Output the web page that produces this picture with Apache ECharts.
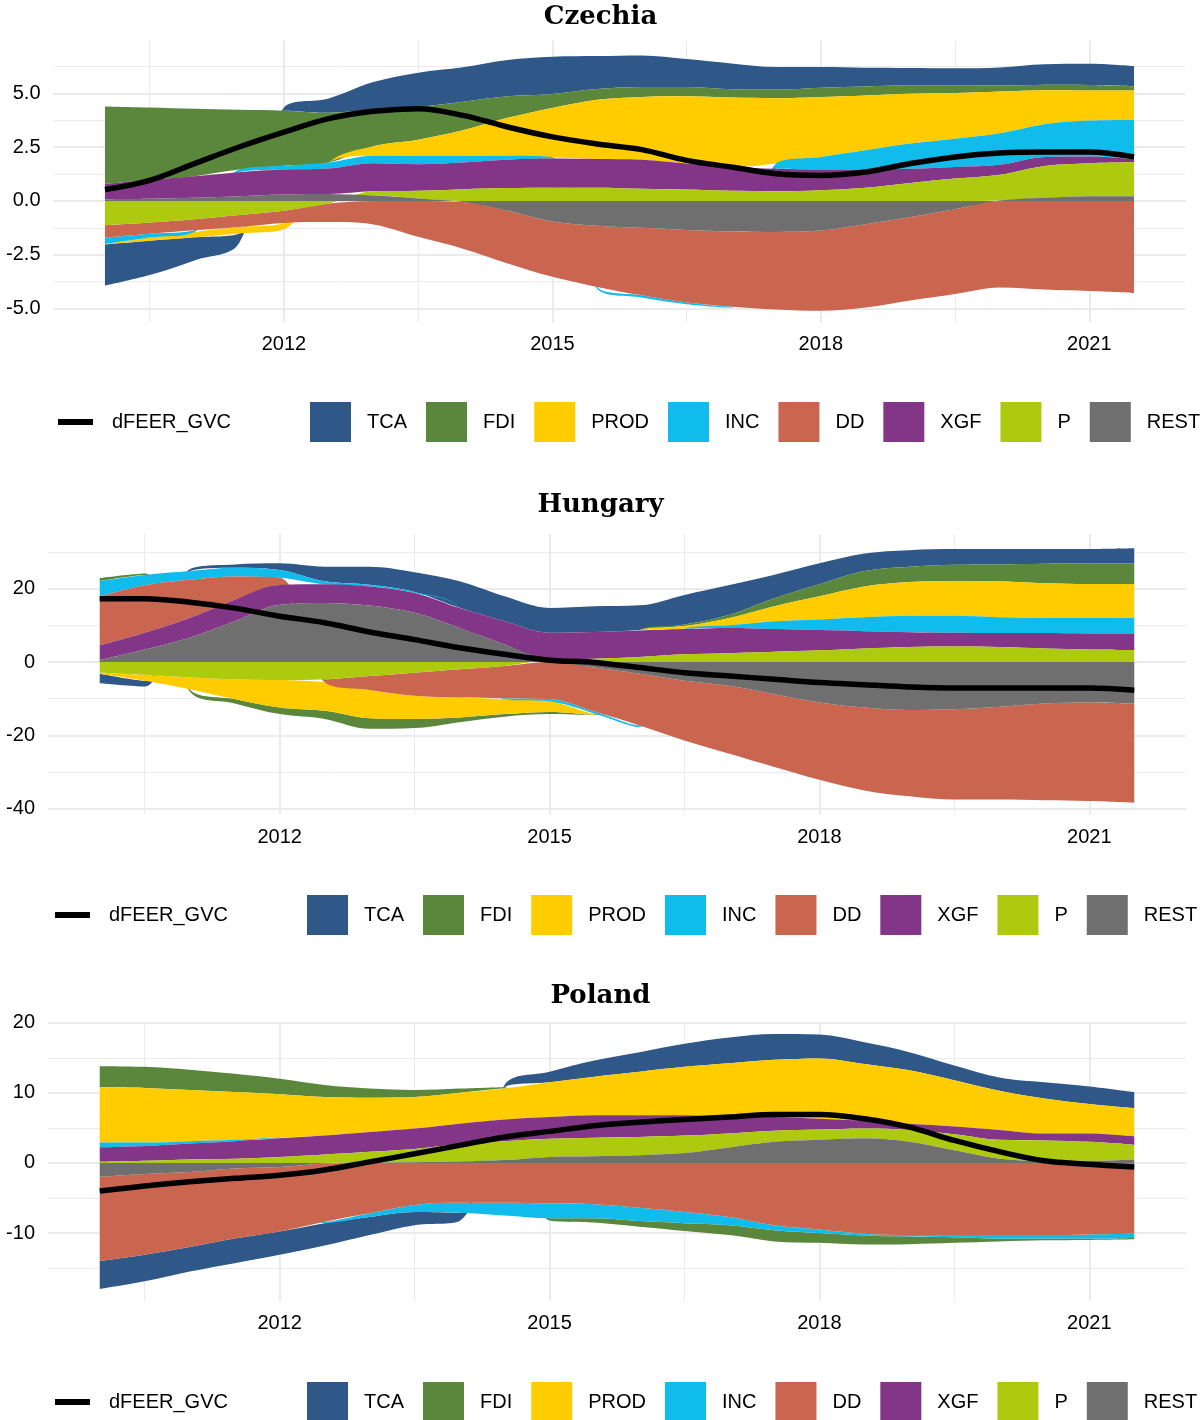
<!DOCTYPE html>
<html>
<head>
<meta charset="utf-8">
<script src="https://cdn.jsdelivr.net/npm/echarts@6/dist/echarts.min.js"></script>
<style>
  html, body { margin: 0; padding: 0; background: #fff; }
  #main { width: 1201px; height: 1420px; }
</style>
</head>
<body>
<div id="main"></div>
<script>
// half-year observation points
const years = [2010.0, 2010.5, 2011.0, 2011.5, 2012.0, 2012.5, 2013.0, 2013.5, 2014.0, 2014.5, 2015.0, 2015.5,
               2016.0, 2016.5, 2017.0, 2017.5, 2018.0, 2018.5, 2019.0, 2019.5, 2020.0, 2020.5, 2021.0, 2021.5];

// Czechia
const czREST = [0.08, 0.1, 0.15, 0.22, 0.3, 0.32, 0.25, 0.12, -0.05, -0.45, -0.95, -1.15, -1.25, -1.35, -1.42, -1.44, -1.38, -1.08, -0.75, -0.38, 0.02, 0.15, 0.22, 0.22];
const czP    = [-1.13, -1.0, -0.85, -0.65, -0.45, -0.12, 0.2, 0.35, 0.55, 0.6, 0.62, 0.62, 0.57, 0.53, 0.47, 0.45, 0.5, 0.62, 0.84, 1.04, 1.2, 1.48, 1.54, 1.58];
const czXGF  = [0.72, 0.88, 1.0, 1.12, 1.16, 1.19, 1.3, 1.24, 1.24, 1.32, 1.35, 1.33, 1.35, 1.21, 1.11, 1.05, 0.96, 0.86, 0.66, 0.54, 0.46, 0.42, 0.31, 0.15];
const czDD   = [-0.57, -0.52, -0.51, -0.56, -0.57, -0.86, -1.09, -1.67, -2.17, -2.46, -2.58, -2.85, -3.14, -3.37, -3.49, -3.61, -3.73, -3.88, -3.88, -3.95, -4.03, -4.12, -4.19, -4.28];
const czINC  = [-0.3, -0.18, -0.08, 0.12, 0.18, 0.28, 0.35, 0.38, 0.3, 0.18, 0.06, -0.08, -0.1, -0.08, -0.05, 0.24, 0.59, 0.88, 1.17, 1.32, 1.47, 1.52, 1.67, 1.82];
const czPROD = [-0.02, -0.15, -0.25, -0.3, -0.3, 0.0, 0.45, 0.76, 1.2, 1.77, 2.3, 2.76, 2.92, 3.13, 3.23, 3.04, 2.79, 2.55, 2.32, 2.12, 1.94, 1.58, 1.4, 1.37];
const czFDI  = [3.6, 3.37, 3.14, 2.78, 2.56, 2.31, 1.7, 1.52, 1.32, 1.0, 0.65, 0.5, 0.46, 0.43, 0.39, 0.4, 0.43, 0.42, 0.39, 0.36, 0.28, 0.26, 0.26, 0.2];
const czTCA  = [-1.92, -1.6, -1.08, -0.45, 0.15, 0.67, 1.28, 1.6, 1.61, 1.69, 1.73, 1.53, 1.47, 1.3, 1.2, 1.05, 0.96, 0.87, 0.81, 0.79, 0.84, 0.95, 0.98, 0.93];
const czLine = [0.53, 0.96, 1.74, 2.51, 3.2, 3.83, 4.17, 4.29, 3.98, 3.44, 2.98, 2.65, 2.39, 1.89, 1.58, 1.27, 1.19, 1.35, 1.74, 2.05, 2.23, 2.28, 2.28, 2.05];

// Hungary
const huREST = [0.5, 3.4, 6.6, 11.1, 15.6, 16.1, 15.4, 13.4, 9.3, 4.8, 0.4, -1.5, -3.2, -5.1, -6.5, -8.8, -11.0, -12.4, -13.1, -12.9, -12.2, -11.3, -11.0, -11.3];
const huP    = [-2.9, -3.5, -4.2, -4.7, -4.9, -4.7, -3.8, -2.9, -2.0, -1.1, 0.2, 0.9, 1.35, 2.1, 2.4, 2.8, 3.2, 3.7, 4.1, 4.2, 4.1, 3.7, 3.4, 3.25];
const huXGF  = [4.0, 4.55, 5.4, 5.9, 5.4, 5.1, 5.2, 5.4, 5.4, 6.3, 7.4, 7.3, 7.25, 6.9, 6.9, 6.2, 5.5, 4.7, 4.0, 3.75, 3.8, 4.2, 4.4, 4.55];
const huDD   = [13.4, 13.0, 10.4, 6.3, 2.0, -0.8, -3.8, -6.3, -7.7, -8.75, -10.1, -12.0, -14.1, -16.3, -18.5, -19.8, -21.1, -22.6, -23.5, -24.6, -25.3, -26.4, -26.9, -27.1];
const huINC  = [4.2, 2.8, 2.4, 2.4, 2.1, 0.8, 0.45, 0.3, 0.1, -0.3, -0.6, -0.5, -0.4, 0.05, 0.7, 2.1, 2.9, 3.8, 4.5, 4.65, 4.3, 4.1, 4.2, 4.2];
const huPROD = [-0.3, -1.6, -3.2, -5.4, -7.5, -7.8, -7.7, -6.3, -5.4, -4.05, -2.9, -0.3, 0.1, 0.75, 2.0, 4.1, 6.3, 8.4, 9.2, 9.5, 9.8, 9.5, 9.3, 9.3];
const huFDI  = [0.8, 0.4, -0.6, -1.2, -1.8, -2.2, -2.9, -2.5, -1.3, -0.7, -0.6, -0.2, 0.05, 0.4, 0.9, 2.2, 3.3, 4.2, 4.2, 4.4, 4.6, 5.3, 5.6, 5.6];
const huTCA  = [-2.6, -1.6, 0.5, 0.9, 1.8, 4.0, 4.95, 5.4, 7.2, 6.8, 6.75, 7.0, 6.7, 8.1, 8.1, 6.4, 5.7, 4.8, 4.5, 4.3, 4.2, 4.0, 3.9, 4.1];
const huLine = [17.25, 17.25, 16.3, 14.7, 12.5, 10.7, 8.2, 6.1, 3.9, 2.1, 0.5, -0.1, -1.5, -2.9, -3.8, -4.7, -5.6, -6.2, -6.8, -7.1, -7.1, -7.1, -7.1, -7.7];

// Poland
const plREST = [-2.0, -1.6, -1.3, -0.8, -0.6, -0.1, 0.05, 0.1, 0.2, 0.4, 0.85, 0.95, 1.1, 1.4, 2.2, 3.0, 3.3, 3.5, 3.0, 1.8, 0.6, 0.3, 0.3, 0.5];
const plP    = [0.15, 0.3, 0.5, 0.6, 0.85, 1.2, 1.55, 1.9, 2.5, 2.7, 2.6, 2.65, 2.6, 2.5, 2.0, 1.6, 1.45, 1.4, 1.7, 2.3, 2.7, 2.9, 2.7, 2.05];
const plXGF  = [2.05, 2.1, 2.25, 2.5, 2.65, 2.7, 2.8, 2.9, 2.9, 3.1, 3.1, 3.2, 3.1, 2.9, 2.4, 1.95, 1.55, 1.1, 0.9, 1.1, 1.4, 1.0, 1.2, 1.25];
const plDD   = [-12.0, -11.5, -10.7, -10.0, -9.2, -8.3, -7.2, -6.0, -5.7, -5.7, -5.8, -5.9, -6.4, -7.0, -7.7, -8.9, -9.5, -10.1, -10.3, -10.3, -10.3, -10.3, -10.2, -10.1];
const plINC  = [0.7, 0.5, 0.35, 0.2, 0.1, -0.2, -0.5, -1.0, -1.4, -1.8, -2.1, -2.0, -1.9, -1.6, -1.2, -0.7, -0.5, -0.25, -0.2, -0.3, -0.5, -0.5, -0.6, -0.6];
const plPROD = [7.9, 7.8, 7.3, 6.8, 6.2, 5.5, 4.9, 4.5, 4.4, 4.4, 4.95, 5.5, 6.2, 6.9, 7.6, 8.15, 8.6, 8.1, 7.6, 6.6, 5.6, 5.0, 4.2, 4.0];
const plFDI  = [3.0, 3.0, 2.9, 2.6, 2.2, 1.7, 1.3, 1.0, 0.6, 0.2, -0.3, -0.6, -0.8, -1.1, -1.4, -1.6, -1.4, -1.3, -1.1, -0.8, -0.4, -0.25, -0.2, -0.2];
const plTCA  = [-4.0, -3.8, -3.5, -3.5, -3.3, -3.2, -2.6, -1.9, -1.2, 0.3, 1.5, 2.3, 2.8, 3.3, 3.7, 3.7, 3.4, 3.1, 2.6, 2.1, 1.9, 2.3, 2.5, 2.3];
const plLine = [-4.0, -3.3, -2.7, -2.2, -1.75, -1.0, 0.15, 1.3, 2.5, 3.7, 4.5, 5.3, 5.8, 6.2, 6.55, 6.9, 6.9, 6.3, 5.1, 3.2, 1.6, 0.3, -0.2, -0.6];

// axis ticks
const xTicks = [2012, 2015, 2018, 2021];
const xMinor = [2010.5, 2013.5, 2016.5, 2019.5];
const czTicks = [-5, -2.5, 0, 2.5, 5];
const czMinor = [-3.75, -1.25, 1.25, 3.75, 6.25];
const huTicks = [-40, -20, 0, 20];
const huMinor = [-30, -10, 10, 30];
const plTicks = [-10, 0, 10, 20];
const plMinor = [-15, -5, 5, 15];

const legendOrder = ['TCA', 'FDI', 'PROD', 'INC', 'DD', 'XGF', 'P', 'REST'];
const stackOrder = ['REST', 'P', 'XGF', 'DD', 'INC', 'PROD', 'FDI', 'TCA']; // from zero outward
const colors = {
  TCA: '#2F5889', FDI: '#5B873D', PROD: '#FFCC00', INC: '#10BCEB',
  DD: '#CA6550', XGF: '#833587', P: '#AECA0E', REST: '#6F6F6F'
};
const sans = 'Liberation Sans, Arial, sans-serif';
const X0 = 2009.425, X1 = 2022.075; // padded year range of each panel

const panels = [
  { title: 'Czechia', titleTop: 4, line: czLine,
    comp: { REST: czREST, P: czP, XGF: czXGF, DD: czDD, INC: czINC, PROD: czPROD, FDI: czFDI, TCA: czTCA },
    grid: { left: 53.5, top: 40.4, width: 1132, height: 282 }, yMin: -5.65, yMax: 7.47,
    ticks: czTicks, minor: czMinor, fmt: v => v.toFixed(1), legendY: 422, shift: 0 },
  { title: 'Hungary', titleTop: 492, line: huLine,
    comp: { REST: huREST, P: huP, XGF: huXGF, DD: huDD, INC: huINC, PROD: huPROD, FDI: huFDI, TCA: huTCA },
    grid: { left: 48, top: 534, width: 1138, height: 281 }, yMin: -41.7, yMax: 34.9,
    ticks: huTicks, minor: huMinor, fmt: v => String(v), legendY: 915, shift: -3 },
  { title: 'Poland', titleTop: 983, line: plLine,
    comp: { REST: plREST, P: plP, XGF: plXGF, DD: plDD, INC: plINC, PROD: plPROD, FDI: plFDI, TCA: plTCA },
    grid: { left: 48, top: 1022, width: 1138, height: 279 }, yMin: -19.7, yMax: 20.1,
    ticks: plTicks, minor: plMinor, fmt: v => String(v), legendY: 1402, shift: -3 }
];

const option = {
  animation: false,
  backgroundColor: '#fff',
  title: [], grid: [], xAxis: [], yAxis: [], legend: [], series: []
};

// frame grids: axis labels and panel grid lines (indices 0..2)
panels.forEach((p, i) => {
  option.title.push({
    text: p.title, left: 'center', top: p.titleTop, padding: 0,
    textStyle: { fontFamily: 'DejaVu Serif', fontWeight: 'bold', fontSize: 26, color: '#000' }
  });
  option.grid.push(p.grid);
  option.xAxis.push({
    type: 'value', gridIndex: i, min: X0, max: X1,
    axisLine: { show: false }, axisTick: { show: false }, splitLine: { show: false },
    axisLabel: { customValues: xTicks, formatter: v => String(v), fontSize: 20, color: '#000', fontFamily: sans, margin: 12 }
  });
  option.yAxis.push({
    type: 'value', gridIndex: i, min: p.yMin, max: p.yMax,
    axisLine: { show: false }, axisTick: { show: false }, splitLine: { show: false },
    axisLabel: { customValues: p.ticks, formatter: p.fmt, fontSize: 20, color: '#000', fontFamily: sans, margin: 13 }
  });
});

panels.forEach((p, i) => {
  // data grid spanning the observed years only (indices 3..5)
  const g = p.grid;
  const left = g.left + (years[0] - X0) / (X1 - X0) * g.width;
  const width = (years[years.length - 1] - years[0]) / (X1 - X0) * g.width;
  option.grid.push({ left: left, top: g.top, width: width, height: g.height });
  const di = option.grid.length - 1;
  option.xAxis.push({ type: 'category', gridIndex: di, data: years.map(String), boundaryGap: false, show: false });
  option.yAxis.push({ type: 'value', gridIndex: di, min: p.yMin, max: p.yMax, show: false });

  const gl = [];
  xTicks.forEach(v => gl.push({ xAxis: v, lineStyle: { width: 2 } }));
  xMinor.forEach(v => gl.push({ xAxis: v, lineStyle: { width: 1 } }));
  p.ticks.forEach(v => gl.push({ yAxis: v, lineStyle: { width: 2 } }));
  p.minor.forEach(v => gl.push({ yAxis: v, lineStyle: { width: 1 } }));
  option.series.push({
    name: 'grid' + i, type: 'line', xAxisIndex: i, yAxisIndex: i, z: 0, silent: true,
    data: [[years[0], 0]], symbol: 'none', lineStyle: { opacity: 0 },
    markLine: {
      silent: true, symbol: 'none', label: { show: false }, animation: false, z: 0,
      lineStyle: { color: '#ebebeb', type: 'solid' },
      data: gl
    }
  });

  stackOrder.forEach((c, k) => {
    option.series.push({
      name: c, type: 'line', xAxisIndex: di, yAxisIndex: di,
      stack: 'st' + i,
      data: p.comp[c],
      smooth: 0.35, symbol: 'none', showSymbol: false, silent: true,
      lineStyle: { width: 0 },
      itemStyle: { color: colors[c] },
      areaStyle: { color: colors[c], opacity: 1 },
      z: 10 - k
    });
  });

  option.series.push({
    name: 'dFEER_GVC', type: 'line', xAxisIndex: di, yAxisIndex: di,
    data: p.line,
    smooth: 0.35, symbol: 'none', showSymbol: false, silent: true,
    lineStyle: { color: '#000', width: 5.5 }, itemStyle: { color: '#000' }, z: 20
  });

  option.legend.push({
    data: [{ name: 'dFEER_GVC', icon: 'rect' }], left: 58 + p.shift, top: p.legendY - 10,
    itemWidth: 35, itemHeight: 6, padding: 0,
    textStyle: { fontSize: 20, color: '#000', fontFamily: sans, padding: [0, 0, 0, 14] }
  });
  option.legend.push({
    data: legendOrder, icon: 'rect', left: 310 + p.shift, top: p.legendY - 20,
    itemWidth: 41, itemHeight: 40, itemGap: 19, padding: 0,
    textStyle: { fontSize: 20, color: '#000', fontFamily: sans, padding: [0, 0, 0, 11] }
  });
});

const chart = echarts.init(document.getElementById('main'), null, { renderer: 'canvas' });
chart.setOption(option);
</script>
</body>
</html>
